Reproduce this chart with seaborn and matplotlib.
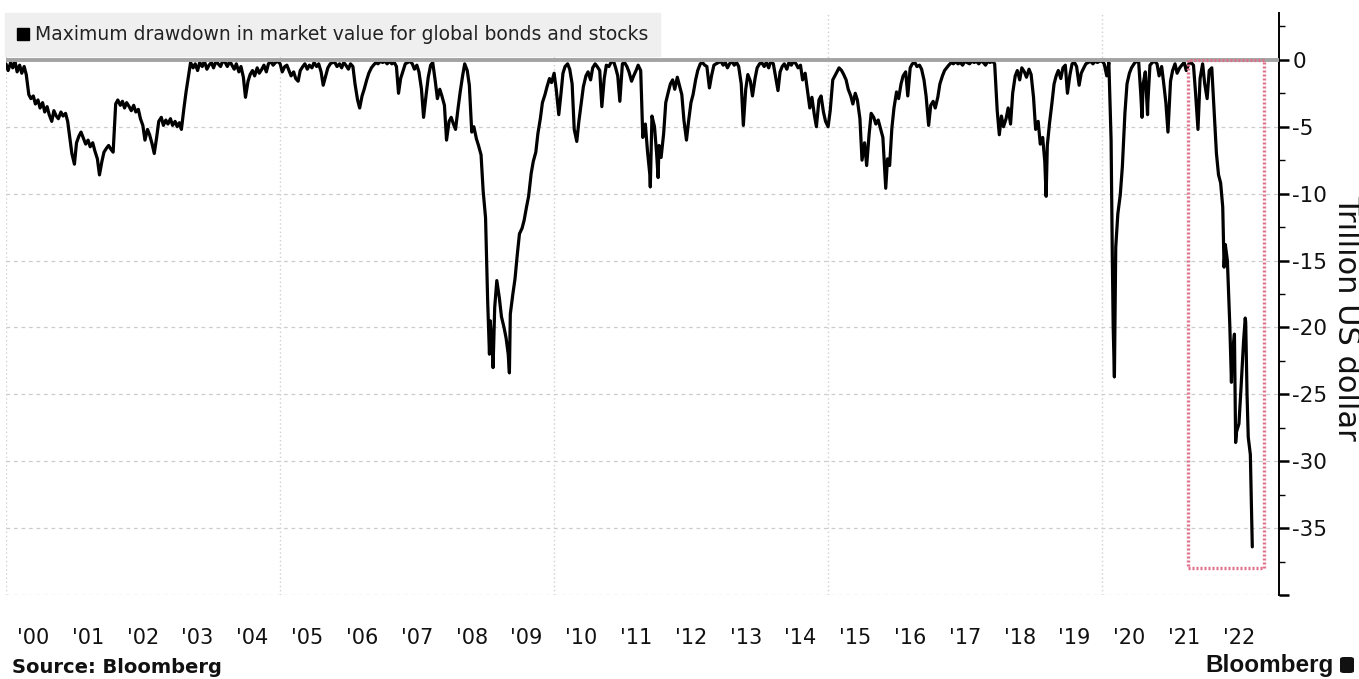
import pandas as pd
import matplotlib
matplotlib.use("Agg")
import matplotlib.pyplot as plt
import matplotlib.dates as mdates
from matplotlib.lines import Line2D
from matplotlib.patches import Rectangle, FancyBboxPatch
from matplotlib.ticker import FixedLocator, FuncFormatter, MultipleLocator, NullFormatter
import seaborn as sns

# Drawdown from the running peak, trillion US dollars, sampled on the 1st and 15th of each month
dd_2000 = [-0.3, -0.8, -0.2, -0.6, -0.1, -0.9, -0.4, -1.0, -0.5, -1.1, -2.6, -2.9,
           -2.7, -3.3, -3.0, -3.6, -3.2, -3.9, -3.5, -4.1, -4.6, -3.8, -4.2, -4.4]
dd_2001 = [-3.9, -4.2, -4.0, -4.6, -5.8, -7.0, -7.8, -6.2, -5.7, -5.4, -5.9, -6.3,
           -6.0, -6.5, -6.2, -6.8, -7.4, -8.6, -7.6, -6.9, -6.6, -6.4, -6.7, -6.9]
dd_2002 = [-3.3, -3.0, -3.4, -3.1, -3.6, -3.2, -3.5, -3.8, -3.4, -3.9, -3.7, -4.4,
           -4.9, -6.0, -5.2, -5.6, -6.3, -7.0, -5.8, -4.6, -4.3, -4.9, -4.5, -4.8]
dd_2003 = [-4.4, -4.9, -4.6, -5.0, -4.7, -5.2, -3.6, -2.4, -1.2, -0.2, -0.6, -0.3,
           -0.8, -0.2, -0.5, -0.1, -0.7, -0.4, -0.2, -0.6, -0.1, -0.3, -0.5, -0.1]
dd_2004 = [-0.2, -0.5, -0.1, -0.4, -0.7, -0.3, -0.9, -0.5, -1.3, -2.8, -1.6, -1.1,
           -0.8, -1.2, -0.6, -1.0, -0.7, -0.4, -0.9, -0.3, -0.1, -0.4, -0.2, -0.1]
dd_2005 = [-0.3, -0.9, -0.5, -0.4, -0.8, -1.2, -0.9, -1.4, -1.6, -0.8, -0.5, -0.3,
           -0.7, -0.4, -0.6, -0.2, -0.5, -0.3, -0.9, -1.9, -1.2, -0.6, -0.3, -0.2]
dd_2006 = [-0.2, -0.5, -0.3, -0.6, -0.2, -0.4, -0.7, -0.3, -0.5, -1.8, -3.0, -3.6,
           -2.7, -2.2, -1.5, -1.0, -0.6, -0.4, -0.2, -0.3, -0.1, -0.2, -0.1, -0.3]
dd_2007 = [-0.1, -0.3, -0.2, -0.5, -2.5, -1.4, -0.8, -0.3, -0.2, -0.1, -0.3, -0.7,
           -0.4, -0.9, -2.2, -4.3, -2.6, -1.3, -0.4, -0.2, -1.6, -2.9, -2.2, -2.7]
dd_2008 = [-3.4, -6.0, -4.6, -4.3, -4.8, -5.2, -3.6, -2.4, -1.2, -0.3, -0.8, -1.9,
           -5.4, -5.0, -5.9, -6.4, -7.1, -9.8, -11.8, -18.0, -19.5, -21.5, -18.5, -16.5]
dd_2009 = [-17.8, -19.2, -20.0, -20.8, -22.0, -19.0, -17.5, -16.4, -14.5, -13.0, -12.6, -12.0,
           -11.0, -10.2, -8.5, -7.6, -6.9, -5.5, -4.4, -3.2, -2.6, -2.0, -1.4, -1.7]
dd_2010 = [-1.0, -2.2, -4.1, -2.6, -1.0, -0.5, -0.3, -0.7, -1.8, -5.2, -6.1, -4.6,
           -3.2, -2.0, -1.2, -0.9, -1.5, -0.6, -0.3, -0.5, -0.8, -3.5, -1.4, -0.4]
dd_2011 = [-0.5, -0.2, -0.1, -0.6, -1.2, -3.1, -0.3, -0.2, -0.5, -0.9, -1.6, -1.2,
           -0.8, -0.4, -0.8, -5.8, -4.8, -6.8, -8.6, -4.2, -5.0, -7.0, -6.4, -7.3]
dd_2012 = [-5.5, -3.2, -2.4, -1.8, -1.5, -2.2, -1.3, -1.9, -2.6, -4.5, -6.0, -4.6,
           -3.2, -2.6, -1.5, -0.8, -0.3, -0.2, -0.4, -0.5, -2.1, -1.2, -0.4, -0.3]
dd_2013 = [-0.2, -0.1, -0.4, -0.2, -0.6, -0.3, -0.1, -0.4, -0.2, -0.5, -1.8, -4.9,
           -2.2, -1.1, -1.6, -2.7, -1.4, -0.6, -0.3, -0.2, -0.5, -0.2, -0.6, -0.1]
dd_2014 = [-0.3, -1.2, -2.3, -0.9, -0.5, -0.3, -0.7, -0.2, -0.4, -0.1, -0.3, -0.6,
           -0.4, -1.5, -1.0, -2.2, -3.6, -2.8, -4.1, -5.0, -3.0, -2.7, -3.9, -4.6]
dd_2015 = [-5.0, -3.8, -1.5, -1.2, -0.9, -0.6, -0.8, -1.1, -1.5, -2.2, -2.7, -3.3,
           -2.5, -3.0, -4.4, -7.5, -6.2, -7.9, -5.6, -4.0, -4.3, -4.8, -4.5, -5.1]
dd_2016 = [-5.8, -8.6, -7.4, -7.9, -5.1, -3.6, -2.4, -2.9, -1.8, -1.2, -0.9, -2.7,
           -0.6, -0.3, -0.2, -0.5, -0.4, -0.7, -1.5, -2.7, -4.9, -3.4, -3.1, -3.6]
dd_2017 = [-2.8, -1.8, -1.2, -0.8, -0.6, -0.4, -0.2, -0.3, -0.1, -0.3, -0.2, -0.4,
           -0.1, -0.2, -0.3, -0.1, -0.2, -0.1, -0.3, -0.1, -0.2, -0.4, -0.1, -0.2]
dd_2018 = [-0.1, -0.3, -3.8, -5.6, -4.2, -5.0, -4.4, -3.6, -4.8, -2.5, -1.2, -0.8,
           -1.5, -0.6, -0.9, -1.3, -0.7, -1.1, -2.8, -5.2, -4.6, -6.3, -5.8, -7.6]
dd_2019 = [-6.4, -4.8, -3.2, -1.8, -1.2, -0.8, -1.4, -0.6, -0.4, -2.5, -1.1, -0.3,
           -0.2, -0.5, -1.9, -1.0, -0.6, -0.3, -0.2, -0.1, -0.3, -0.1, -0.2, -0.1]
dd_2020 = [-0.1, -0.3, -1.2, -0.2, -6.0, -20.0, -14.0, -11.5, -10.1, -8.0, -4.0, -1.8,
           -1.0, -0.6, -0.3, -0.1, -0.2, -2.6, -1.8, -0.9, -3.2, -0.4, -0.2, -0.1]
dd_2021 = [-0.3, -1.2, -0.5, -1.8, -3.2, -5.4, -1.6, -0.8, -0.3, -1.0, -0.6, -0.4,
           -0.2, -0.8, -0.3, -0.2, -0.4, -2.5, -5.2, -1.4, -0.3, -1.8, -2.9, -0.8]
dd_2022 = [-0.6, -3.5, -7.0, -8.6, -9.2, -11.0, -13.8, -15.0, -19.8, -22.5, -20.5, -27.8,
           -27.2, -24.5, -21.0, -19.6, -28.2, -29.5]

# Intra-month extremes between the regular samples
spike_dates = ["2008-10-27", "2008-11-20", "2009-03-09", "2011-10-04", "2011-11-25",
               "2016-01-20", "2018-12-24", "2020-03-09", "2020-03-23", "2020-09-23",
               "2020-10-30", "2022-03-24", "2022-05-12", "2022-06-09", "2022-08-12",
               "2022-08-24", "2022-09-28"]
spike_values = [-22.0, -23.0, -23.4, -9.5, -8.8,
                -9.6, -10.2, -14.6, -23.7, -4.3,
                -4.1, -15.5, -24.1, -28.6, -19.3,
                -25.0, -36.4]

series_label = "Maximum drawdown in market value for global bonds and stocks"
unit_label = "Trillion US dollar"
source_label = "Source: Bloomberg"
brand_label = "Bloomberg"
y_tick_values = [0, -5, -10, -15, -20, -25, -30, -35, -40]
y_tick_labelled = [0, -5, -10, -15, -20, -25, -30, -35]

# Highlighted window
highlight_start = "2021-07-27"
highlight_end = "2022-12-15"
highlight_floor = -38.0

yearly = {
    2000: dd_2000, 2001: dd_2001, 2002: dd_2002, 2003: dd_2003, 2004: dd_2004,
    2005: dd_2005, 2006: dd_2006, 2007: dd_2007, 2008: dd_2008, 2009: dd_2009,
    2010: dd_2010, 2011: dd_2011, 2012: dd_2012, 2013: dd_2013, 2014: dd_2014,
    2015: dd_2015, 2016: dd_2016, 2017: dd_2017, 2018: dd_2018, 2019: dd_2019,
    2020: dd_2020, 2021: dd_2021, 2022: dd_2022,
}
frames = [
    pd.DataFrame({"date": pd.date_range(f"{yr}-01-01", periods=len(vals), freq="SMS"),
                  "value": vals})
    for yr, vals in yearly.items()
]
frames.append(pd.DataFrame({"date": pd.to_datetime(spike_dates), "value": spike_values}))
df = (pd.concat(frames, ignore_index=True)
        .drop_duplicates("date", keep="last")
        .sort_values("date")
        .reset_index(drop=True))

sns.set_theme(style="white")
plt.rcParams["font.family"] = ["DejaVu Sans"]
plt.rcParams["axes.unicode_minus"] = False

W, H = 1359, 679
fig = plt.figure(figsize=(W / 100, H / 100), dpi=100)
fig.patch.set_facecolor("white")
ax_left, ax_right, ax_top, ax_bottom = 6, 1279, 13, 595
ax = fig.add_axes([ax_left / W, 1 - ax_bottom / H, (ax_right - ax_left) / W,
                   (ax_bottom - ax_top) / H])
ax.set_facecolor("white")

sns.lineplot(data=df, x="date", y="value", ax=ax, color="black", linewidth=2.3,
             estimator=None, sort=True, legend=False, zorder=3)

# zero baseline
ax.axhline(0, color="#a3a3a3", linewidth=2.8, zorder=4)

# highlighted window
x0 = mdates.date2num(pd.Timestamp(highlight_start))
x1 = mdates.date2num(pd.Timestamp(highlight_end))
ax.add_patch(Rectangle((x0, highlight_floor), x1 - x0, -highlight_floor, fill=False,
                       edgecolor="#e0708a", linewidth=2.4, linestyle=(0, (0.6, 0.6)),
                       zorder=5))

ax.set_xlim(pd.Timestamp("2000-01-01"), pd.Timestamp("2023-03-25"))
ax.set_ylim(-40, 3.5)

# x axis: five-year grid, year labels centred on each year
ax.xaxis.set_major_locator(mdates.YearLocator(5))
ax.xaxis.set_major_formatter(NullFormatter())
ax.xaxis.set_minor_locator(mdates.MonthLocator(bymonth=7, bymonthday=1))
ax.xaxis.set_minor_formatter(mdates.DateFormatter("'%y"))
ax.tick_params(axis="x", which="both", length=0, pad=24, labelsize=15,
               labelcolor="#111111")
ax.xaxis.grid(True, which="major", color="#cfcfcf", linestyle=(0, (1, 2)), linewidth=1.0)

# y axis on the right
ax.yaxis.tick_right()
ax.yaxis.set_major_locator(FixedLocator(y_tick_values))
ax.yaxis.set_major_formatter(FuncFormatter(
    lambda v, _: f"{v:g}" if round(v) in y_tick_labelled else ""))
ax.yaxis.set_minor_locator(MultipleLocator(2.5))
ax.tick_params(axis="y", which="major", direction="out", length=7.5, width=1.8,
               color="black", pad=2, labelsize=15.5, labelcolor="#111111")
ax.tick_params(axis="y", which="minor", direction="out", length=4, width=1.0,
               color="black")
ax.yaxis.grid(True, which="major", color="#cccccc", linestyle=(0, (3, 3)), linewidth=0.9)
ax.set_xlabel("")
ax.set_ylabel("")

for side in ["top", "left", "bottom"]:
    ax.spines[side].set_visible(False)
ax.spines["right"].set_visible(True)
ax.spines["right"].set_color("black")
ax.spines["right"].set_linewidth(1.4)

# legend
handle = Line2D([], [], marker="s", color="black", linestyle="none", markersize=9)
leg = ax.legend([handle], [series_label], loc="upper left", bbox_to_anchor=(-0.001, 1.0),
                borderaxespad=0, frameon=True, fancybox=False, facecolor="#efefef",
                edgecolor="#efefef", framealpha=1, fontsize=13.5, handlelength=0.7,
                handletextpad=0.25, borderpad=0.65)
leg.set_zorder(10)
for t in leg.get_texts():
    t.set_color("#222222")

# axis unit, source and brand
fig.text(1347 / W, 1 - 318 / H, unit_label, rotation=270, ha="center", va="center",
         fontsize=22, color="#111111")
fig.text(12 / W, 1 - 673 / H, source_label, ha="left", va="baseline", fontsize=14,
         fontweight="bold", color="#111111")
fig.text(1334 / W, 1 - 672 / H, brand_label, ha="right", va="baseline", fontsize=17.5,
         fontweight="bold", family=["Liberation Sans", "DejaVu Sans"], color="#111111")
fig.patches.append(FancyBboxPatch((1340 / W, 1 - 673 / H), 14 / W, 16 / H,
                                  boxstyle="round,pad=0,rounding_size=0.003",
                                  transform=fig.transFigure, facecolor="#111111",
                                  edgecolor="none"))

fig.savefig("out.png", dpi=100, facecolor="white")
